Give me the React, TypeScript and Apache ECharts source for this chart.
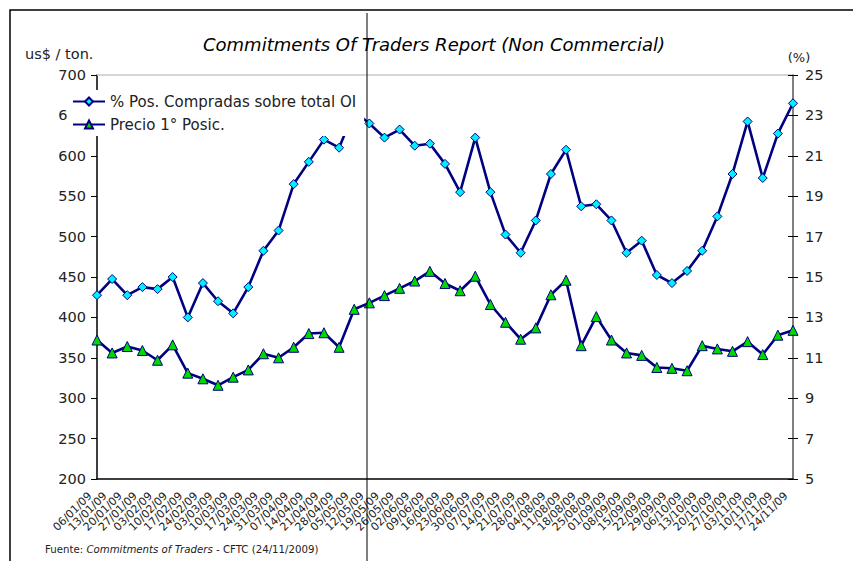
import React, { useEffect, useRef } from "react";
import * as echarts from "echarts";

const dates = [
  "06/01/09", "13/01/09", "20/01/09", "27/01/09", "03/02/09", "10/02/09", "17/02/09", "24/02/09",
  "03/03/09", "10/03/09", "17/03/09", "24/03/09", "31/03/09", "07/04/09", "14/04/09", "21/04/09",
  "28/04/09", "05/05/09", "12/05/09", "19/05/09", "26/05/09", "02/06/09", "09/06/09", "16/06/09",
  "23/06/09", "30/06/09", "07/07/09", "14/07/09", "21/07/09", "28/07/09", "04/08/09", "11/08/09",
  "18/08/09", "25/08/09", "01/09/09", "08/09/09", "15/09/09", "22/09/09", "29/09/09", "06/10/09",
  "13/10/09", "20/10/09", "27/10/09", "03/11/09", "10/11/09", "17/11/09", "24/11/09",
];

// % Pos. Compradas sobre total OI (right axis, %)
const pctLong = [
  14.1, 14.9, 14.1, 14.5, 14.4, 15.0, 13.0, 14.7, 13.8, 13.2, 14.5, 16.3, 17.3, 19.6, 20.7, 21.8,
  21.4, 23.2, 22.6, 21.9, 22.3, 21.5, 21.6, 20.6, 19.2, 21.9, 19.2, 17.1, 16.2, 17.8, 20.1, 21.3,
  18.5, 18.6, 17.8, 16.2, 16.8, 15.1, 14.7, 15.3, 16.3, 18.0, 20.1, 22.7, 19.9, 22.1, 23.6,
];

// Precio 1° Posic. (left axis, us$ / ton.)
const price = [
  372, 356, 364, 359, 347, 366, 331, 324, 316, 326, 335, 355, 350, 363, 380, 381,
  363, 410, 418, 427, 436, 445, 457, 442, 433, 451, 416, 394, 373, 387, 428, 446,
  365, 401, 372, 356, 353, 338, 337, 334, 365, 361, 358, 370, 354, 378, 384,
];

const leftAxis = { min: 200, max: 700, interval: 50 };
const rightAxis = { min: 5, max: 25, interval: 2 };

const FONT = "DejaVu Sans";
const TXT = "#222222";
const NAVY = "#000080";

export default function App() {
  const ref = useRef<HTMLDivElement>(null);

  useEffect(() => {
    document.body.style.margin = "0";
    if (!ref.current) return;
    const chart = echarts.init(ref.current, null, { renderer: "svg" });
    chart.setOption({
      animation: false,
      backgroundColor: "#ffffff",
      textStyle: { fontFamily: FONT },
      grid: { left: 97, right: 60, top: 75, bottom: 82, containLabel: false },
      legend: {
        orient: "vertical",
        left: 68,
        top: 90,
        padding: [4, 8, 4, 4],
        itemGap: 8,
        itemWidth: 32,
        itemHeight: 10,
        backgroundColor: "#ffffff",
        textStyle: { fontFamily: FONT, fontSize: 15, color: TXT },
        data: ["% Pos. Compradas sobre total OI", "Precio 1° Posic."],
        z: 10,
      },
      xAxis: [
        {
          type: "category",
          data: dates,
          boundaryGap: false,
          position: "bottom",
          axisLine: { show: true, lineStyle: { color: "#000000", width: 1.5 } },
          axisTick: { show: false },
          axisLabel: {
            interval: 0,
            rotate: 45,
            fontSize: 11,
            fontFamily: FONT,
            color: TXT,
            margin: 8,
            padding: [0, 10, 0, 0],
          },
          splitLine: { show: false },
        },
        {
          type: "category",
          data: dates,
          boundaryGap: false,
          position: "top",
          axisLine: { show: true, lineStyle: { color: "#c8c8c8", width: 1.5 } },
          axisTick: { show: false },
          axisLabel: { show: false },
          splitLine: { show: false },
        },
      ],
      yAxis: [
        {
          type: "value",
          position: "left",
          min: leftAxis.min,
          max: leftAxis.max,
          interval: leftAxis.interval,
          axisLine: { show: true, lineStyle: { color: "#000000", width: 1.5 } },
          axisTick: { show: true, length: 6, lineStyle: { color: "#000000" } },
          axisLabel: { fontSize: 14.5, fontFamily: FONT, color: TXT, margin: 11 },
          splitLine: { show: false },
        },
        {
          type: "value",
          position: "right",
          min: rightAxis.min,
          max: rightAxis.max,
          interval: rightAxis.interval,
          axisLine: { show: true, lineStyle: { color: "#808080", width: 2 } },
          axisTick: { show: true, length: 5, lineStyle: { color: "#000000" } },
          axisLabel: { fontSize: 14.5, fontFamily: FONT, color: TXT, margin: 12 },
          splitLine: { show: false },
        },
        {
          type: "value",
          position: "right",
          min: rightAxis.min,
          max: rightAxis.max,
          interval: rightAxis.interval,
          axisLine: { show: false },
          axisTick: { show: true, inside: true, length: 5, lineStyle: { color: "#000000" } },
          axisLabel: { show: false },
          splitLine: { show: false },
        },
      ],
      series: [
        {
          name: "% Pos. Compradas sobre total OI",
          type: "line",
          xAxisIndex: 0,
          yAxisIndex: 1,
          data: pctLong,
          symbol: "diamond",
          symbolSize: 9,
          showAllSymbol: true,
          lineStyle: { color: NAVY, width: 2.6 },
          itemStyle: { color: "#00F0FF", borderColor: NAVY, borderWidth: 1 },
          z: 3,
        },
        {
          name: "Precio 1° Posic.",
          type: "line",
          xAxisIndex: 0,
          yAxisIndex: 0,
          data: price,
          symbol: "triangle",
          symbolSize: 10,
          showAllSymbol: true,
          lineStyle: { color: NAVY, width: 2.6 },
          itemStyle: { color: "#00D800", borderColor: NAVY, borderWidth: 1 },
          z: 3,
        },
      ],
      graphic: [
        {
          type: "rect",
          shape: { x: 10, y: 10, width: 900, height: 600 },
          style: { fill: "none", stroke: "#000000", lineWidth: 1.5 },
          silent: true,
          z: 0,
        },
        {
          type: "line",
          shape: { x1: 367, y1: 13, x2: 367, y2: 561 },
          style: { stroke: "#000000", lineWidth: 1 },
          silent: true,
          z: 20,
        },
        {
          type: "text",
          x: 434,
          y: 44,
          style: {
            text: "Commitments Of Traders Report (Non Commercial)",
            fontFamily: FONT,
            fontSize: 18,
            fontStyle: "italic",
            fill: "#000000",
            align: "center",
            verticalAlign: "middle",
          },
        },
        {
          type: "text",
          x: 25,
          y: 54,
          style: {
            text: "us$ / ton.",
            fontFamily: FONT,
            fontSize: 14.5,
            fill: TXT,
            align: "left",
            verticalAlign: "middle",
          },
        },
        {
          type: "text",
          x: 799,
          y: 57,
          style: {
            text: "(%)",
            fontFamily: FONT,
            fontSize: 13,
            fill: TXT,
            align: "center",
            verticalAlign: "middle",
          },
        },
        {
          type: "text",
          x: 45,
          y: 549,
          style: {
            text: "Fuente: {i|Commitments of Traders} - CFTC (24/11/2009)",
            fontFamily: FONT,
            fontSize: 10.2,
            fill: TXT,
            align: "left",
            verticalAlign: "middle",
            rich: {
              i: { fontFamily: FONT, fontSize: 10.2, fontStyle: "italic", fill: TXT },
            },
          },
        },
      ],
    });
    return () => chart.dispose();
  }, []);

  return <div ref={ref} style={{ width: 853, height: 561 }} />;
}
